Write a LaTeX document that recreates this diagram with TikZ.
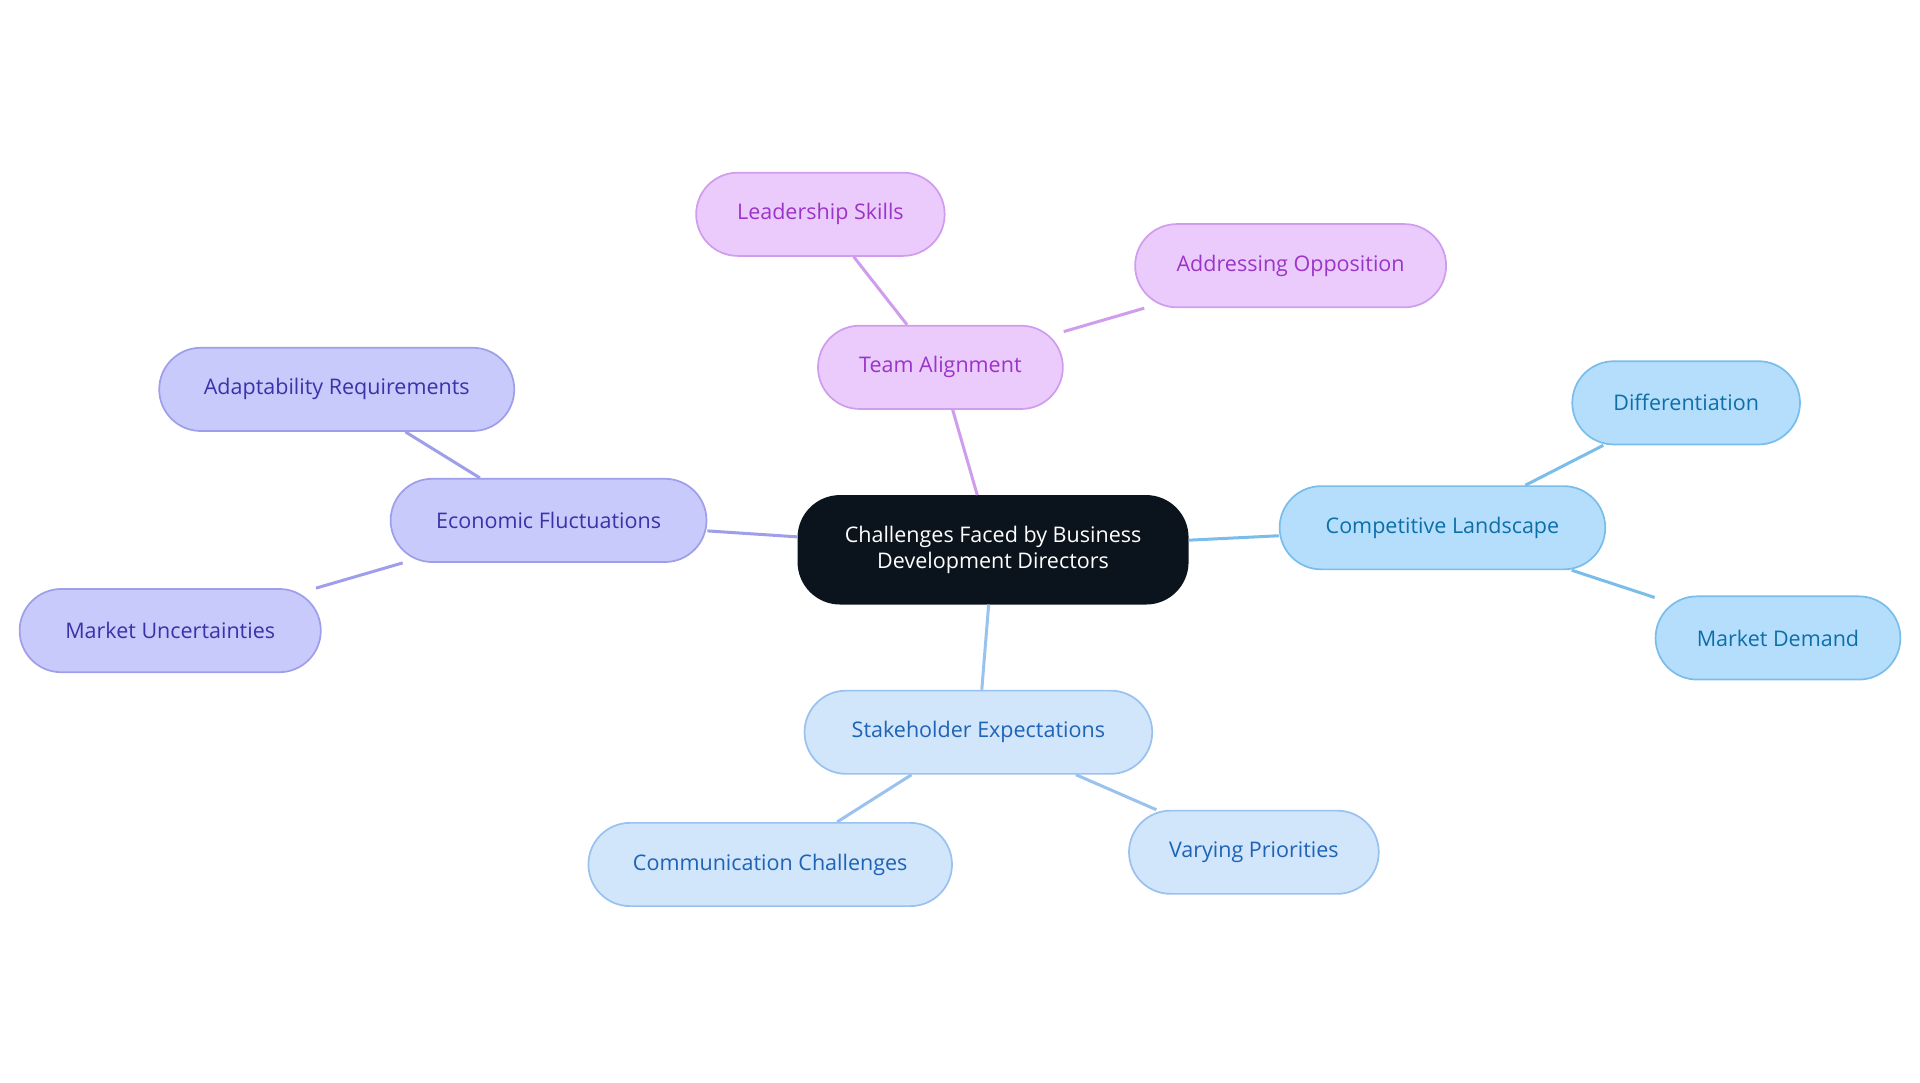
\documentclass[tikz,border=0pt]{standalone}
\usepackage{fontspec}
\setmainfont{Open Sans}
\definecolor{purfill}{HTML}{EBCBFC}\definecolor{purline}{HTML}{D09CEE}\definecolor{purtext}{HTML}{9A35C8}
\definecolor{indfill}{HTML}{C9CAFC}\definecolor{indline}{HTML}{9E9EEA}\definecolor{indtext}{HTML}{3A32A8}
\definecolor{skyfill}{HTML}{B5DEFC}\definecolor{skyline}{HTML}{7ABDEA}\definecolor{skytext}{HTML}{0E6FA8}
\definecolor{palfill}{HTML}{D1E5FB}\definecolor{palline}{HTML}{99C2EE}\definecolor{paltext}{HTML}{1E63B5}
\definecolor{rootfill}{HTML}{0B141C}
\begin{document}
\begin{tikzpicture}[x=0.02cm,y=-0.02cm,
  box/.style={rounded corners=0.68cm,minimum height=1.36cm,inner sep=0pt,
    line width=0.8pt,font=\fontsize{10}{12}\selectfont,align=center},
  pur/.style={box,fill=purfill,draw=purline,text=purtext},
  ind/.style={box,fill=indfill,draw=indline,text=indtext},
  sky/.style={box,fill=skyfill,draw=skyline,text=skytext},
  pal/.style={box,fill=palfill,draw=palline,text=paltext},
  link/.style={line width=1.4pt}]
\useasboundingbox (0,0) rectangle (1568,884);

% edges first, nodes on top
\begin{scope}[on background layer/.style={}]
\end{scope}

\node[box,fill=rootfill,draw=rootfill,text=white,minimum width=6.36cm,minimum height=1.76cm] (root) at (811,449) {Challenges Faced by Business\\Development Directors};

\node[pur,minimum width=4.0cm] (team) at (768,300) {Team Alignment};
\node[pur,minimum width=4.06cm] (lead) at (670,175) {Leadership Skills};
\node[pur,minimum width=5.08cm] (oppo) at (1054,217) {Addressing Opposition};

\node[ind,minimum width=5.16cm] (econ) at (448,425) {Economic Fluctuations};
\node[ind,minimum width=5.8cm] (adap) at (275,318) {Adaptability Requirements};
\node[ind,minimum width=4.92cm] (unce) at (139,515) {Market Uncertainties};

\node[sky,minimum width=5.32cm] (comp) at (1178,431) {Competitive Landscape};
\node[sky,minimum width=3.72cm] (diff) at (1377,329) {Differentiation};
\node[sky,minimum width=4.0cm] (dema) at (1452,521) {Market Demand};

\node[pal,minimum width=5.68cm] (stak) at (799,598) {Stakeholder Expectations};
\node[pal,minimum width=5.94cm] (comm) at (629,706) {Communication Challenges};
\node[pal,minimum width=4.08cm] (vary) at (1024,696) {Varying Priorities};

\draw[link,purline] (root) -- (team);
\draw[link,purline] (team) -- (lead);
\draw[link,purline] (team) -- (oppo);
\draw[link,indline] (root) -- (econ);
\draw[link,indline] (econ) -- (adap);
\draw[link,indline] (econ) -- (unce);
\draw[link,skyline] (root) -- (comp);
\draw[link,skyline] (comp) -- (diff);
\draw[link,skyline] (comp) -- (dema);
\draw[link,palline] (root) -- (stak);
\draw[link,palline] (stak) -- (comm);
\draw[link,palline] (stak) -- (vary);

\end{tikzpicture}
\end{document}
